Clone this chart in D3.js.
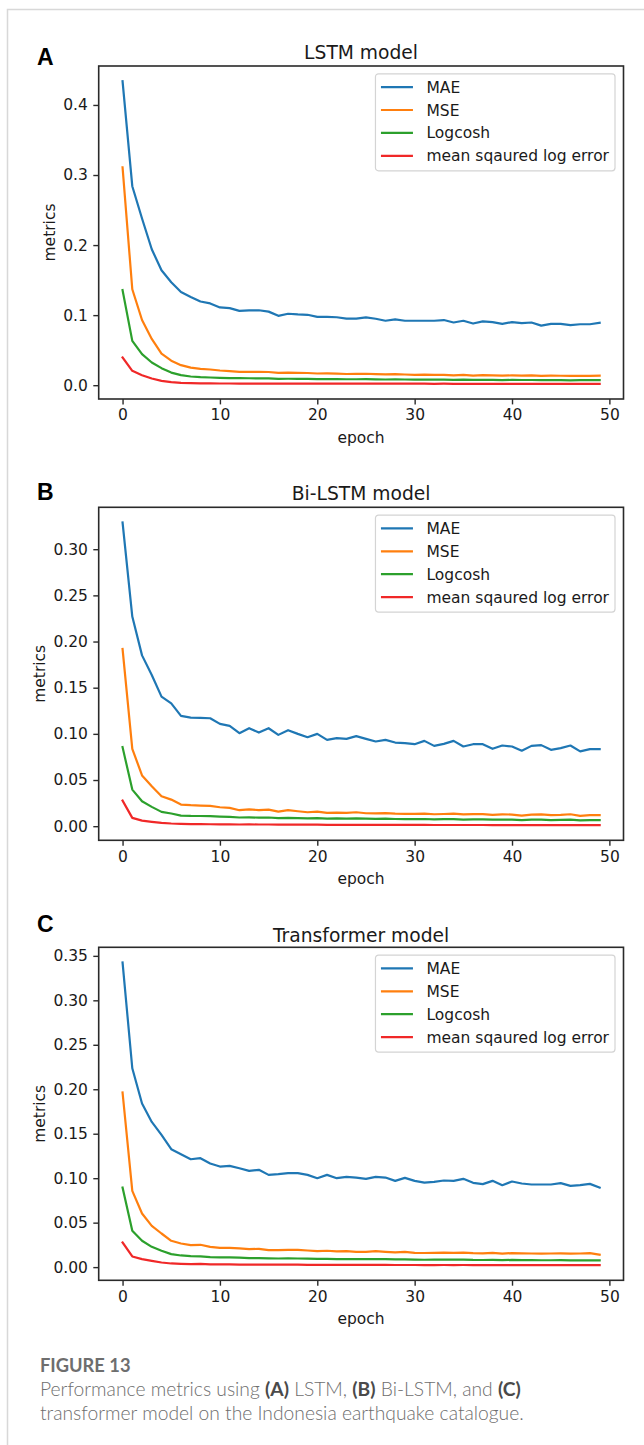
<!DOCTYPE html>
<html>
<head>
<meta charset="utf-8">
<script src="https://cdn.jsdelivr.net/npm/d3@7"></script>
<style>
  html, body { margin: 0; padding: 0; background: #fff; }
  svg { display: block; }
</style>
</head>
<body>
<div id="chart"></div>
<script>
// ---- data ----
var seriesNames = ['MAE', 'MSE', 'Logcosh', 'mean sqaured log error'];
var panelTitles = ['LSTM model', 'Bi-LSTM model', 'Transformer model'];
var panelLetters = ['A', 'B', 'C'];
var xTicks = [0, 10, 20, 30, 40, 50];
var yTicksA = [0, 0.1, 0.2, 0.3, 0.4];
var yTicksB = [0, 0.05, 0.10, 0.15, 0.20, 0.25, 0.30];
var yTicksC = [0, 0.05, 0.10, 0.15, 0.20, 0.25, 0.30, 0.35];

var lstmMAE = [
  0.434, 0.284, 0.238, 0.194, 0.164, 0.147, 0.133, 0.126, 0.1195, 0.1167,
  0.111, 0.110, 0.106, 0.1067, 0.107, 0.105, 0.099, 0.102, 0.101, 0.1005,
  0.0976, 0.0976, 0.097, 0.095, 0.095, 0.0967, 0.0948, 0.092, 0.094, 0.092,
  0.092, 0.092, 0.092, 0.093, 0.0895, 0.092, 0.088, 0.091, 0.090, 0.0876,
  0.090, 0.0886, 0.0895, 0.085, 0.0876, 0.0876, 0.0857, 0.087, 0.087, 0.089];
var lstmMSE = [
  0.311, 0.137, 0.093, 0.066, 0.045, 0.035, 0.0286, 0.025, 0.0233, 0.0224,
  0.021, 0.020, 0.019, 0.019, 0.0192, 0.0188, 0.0176, 0.0178, 0.0176, 0.0174,
  0.0167, 0.0168, 0.0165, 0.016, 0.0162, 0.0163, 0.0158, 0.0155, 0.0157, 0.0153,
  0.0148, 0.0150, 0.0146, 0.0148, 0.0141, 0.0146, 0.0138, 0.0143, 0.0141, 0.0136,
  0.0140, 0.0137, 0.0139, 0.0133, 0.0136, 0.0135, 0.0132, 0.0134, 0.0133, 0.0135];
var lstmLogcosh = [
  0.1357, 0.0633, 0.0443, 0.0324, 0.0243, 0.018, 0.0143, 0.0124, 0.0114, 0.011,
  0.0105, 0.0102, 0.010, 0.0099, 0.0098, 0.0096, 0.009, 0.0092, 0.0091, 0.009,
  0.0088, 0.0088, 0.0087, 0.0085, 0.0085, 0.0086, 0.0084, 0.0081, 0.0083, 0.0081,
  0.008, 0.008, 0.0079, 0.008, 0.0077, 0.0079, 0.0075, 0.0077, 0.0076, 0.0073,
  0.0075, 0.0074, 0.0074, 0.0071, 0.0072, 0.0072, 0.007, 0.0071, 0.0071, 0.0072];
var lstmMSLE = [
  0.0395, 0.0205, 0.0143, 0.0095, 0.0062, 0.0043, 0.0033, 0.0029, 0.0026, 0.0025,
  0.0024, 0.0024, 0.0023, 0.0023, 0.0023, 0.0023, 0.0022, 0.0022, 0.0022, 0.0022,
  0.0021, 0.0021, 0.0021, 0.0021, 0.0021, 0.0021, 0.0021, 0.0021, 0.0021, 0.0021,
  0.0021, 0.0021, 0.0020, 0.0021, 0.0020, 0.0020, 0.0020, 0.0020, 0.0020, 0.0019,
  0.0020, 0.0019, 0.0019, 0.0019, 0.0019, 0.0019, 0.0019, 0.0019, 0.0019, 0.0019];

var biMAE = [
  0.329, 0.227, 0.185, 0.1637, 0.1403, 0.133, 0.1194, 0.1176, 0.1173, 0.1169,
  0.1108, 0.1086, 0.1007, 0.1061, 0.1014, 0.1061, 0.0989, 0.104, 0.100, 0.0964,
  0.100, 0.0935, 0.0953, 0.0946, 0.0975, 0.0946, 0.0917, 0.0935, 0.0906, 0.0899,
  0.0888, 0.0924, 0.087, 0.0892, 0.0924, 0.0863, 0.0888, 0.0888, 0.0838, 0.0874,
  0.0863, 0.0817, 0.087, 0.0878, 0.0827, 0.0845, 0.0874, 0.081, 0.0835, 0.0835];
var biMSE = [
  0.192, 0.0838, 0.055, 0.0432, 0.0324, 0.0288, 0.0234, 0.0227, 0.0223, 0.022,
  0.0205, 0.0198, 0.0173, 0.0183, 0.0173, 0.018, 0.0158, 0.0173, 0.0162, 0.0151,
  0.0158, 0.0144, 0.0147, 0.0144, 0.0151, 0.014, 0.0138, 0.0141, 0.0136, 0.0134,
  0.0133, 0.0137, 0.0129, 0.0132, 0.0135, 0.0127, 0.0131, 0.013, 0.0122, 0.0128,
  0.0126, 0.0115, 0.0126, 0.0127, 0.0119, 0.0122, 0.0129, 0.0112, 0.0119, 0.0119];
var biLogcosh = [
  0.0856, 0.0396, 0.027, 0.0209, 0.0155, 0.0137, 0.0115, 0.0111, 0.011, 0.0109,
  0.0104, 0.010, 0.0094, 0.0096, 0.0092, 0.0094, 0.0088, 0.0091, 0.0088, 0.0085,
  0.0087, 0.0082, 0.0084, 0.0082, 0.0084, 0.0081, 0.008, 0.0081, 0.0078, 0.0077,
  0.0076, 0.0078, 0.0074, 0.0076, 0.0077, 0.0072, 0.0074, 0.0074, 0.007, 0.0072,
  0.0071, 0.0066, 0.007, 0.0071, 0.0066, 0.0068, 0.007, 0.0063, 0.0065, 0.0065];
var biMSLE = [
  0.0277, 0.009, 0.006, 0.0047, 0.0036, 0.0029, 0.0025, 0.0023, 0.0022, 0.0021,
  0.002, 0.002, 0.0018, 0.0019, 0.0018, 0.0018, 0.0017, 0.0017, 0.0017, 0.0016,
  0.0016, 0.0015, 0.0015, 0.0015, 0.0015, 0.0015, 0.0014, 0.0014, 0.0014, 0.0014,
  0.0014, 0.0014, 0.0013, 0.0013, 0.0013, 0.0013, 0.0013, 0.0013, 0.0012, 0.0012,
  0.0012, 0.0011, 0.0012, 0.0012, 0.0011, 0.0011, 0.0012, 0.0011, 0.0011, 0.0011];

var trMAE = [
  0.3426, 0.2236, 0.1839, 0.1633, 0.1487, 0.1326, 0.127, 0.1213, 0.1225, 0.1165,
  0.1131, 0.1139, 0.1112, 0.1082, 0.1094, 0.1037, 0.1045, 0.1056, 0.1056, 0.1037,
  0.100, 0.1037, 0.100, 0.1015, 0.1007, 0.0993, 0.1015, 0.1007, 0.097, 0.1004,
  0.097, 0.0951, 0.0959, 0.0974, 0.097, 0.0993, 0.0948, 0.0933, 0.097, 0.0921,
  0.0963, 0.094, 0.0929, 0.0929, 0.0929, 0.0944, 0.0914, 0.0921, 0.0936, 0.0895];
var trMSE = [
  0.1963, 0.0858, 0.0603, 0.0464, 0.0378, 0.0296, 0.0266, 0.0247, 0.0251, 0.0228,
  0.0217, 0.0217, 0.021, 0.0202, 0.0206, 0.0191, 0.0191, 0.0195, 0.0195, 0.0187,
  0.018, 0.0184, 0.0176, 0.018, 0.0172, 0.0172, 0.018, 0.0172, 0.0165, 0.0172,
  0.0161, 0.0159, 0.0161, 0.0163, 0.0161, 0.0164, 0.0157, 0.0155, 0.016, 0.0152,
  0.0158, 0.0155, 0.0153, 0.0152, 0.0153, 0.0155, 0.0151, 0.0153, 0.0157, 0.0139];
var trLogcosh = [
  0.0895, 0.0408, 0.0296, 0.0228, 0.0184, 0.0146, 0.0131, 0.0124, 0.012, 0.0112,
  0.0109, 0.0109, 0.0107, 0.0101, 0.0101, 0.0099, 0.0097, 0.0098, 0.0097, 0.0095,
  0.0092, 0.0093, 0.009, 0.0091, 0.009, 0.0089, 0.0091, 0.0089, 0.0086, 0.0088,
  0.0085, 0.0083, 0.0084, 0.0085, 0.0084, 0.0085, 0.0081, 0.008, 0.0082, 0.0078,
  0.0081, 0.0079, 0.0078, 0.0077, 0.0077, 0.0078, 0.0076, 0.0076, 0.0077, 0.0075];
var trMSLE = [
  0.0277, 0.012, 0.009, 0.0071, 0.0052, 0.0041, 0.0037, 0.0034, 0.0037, 0.0031,
  0.003, 0.003, 0.0029, 0.0028, 0.0028, 0.0027, 0.0027, 0.0027, 0.0027, 0.0026,
  0.0026, 0.0026, 0.0025, 0.0025, 0.0025, 0.0025, 0.0025, 0.0025, 0.0024, 0.0024,
  0.0024, 0.0023, 0.0023, 0.0024, 0.0023, 0.0024, 0.0023, 0.0023, 0.0023, 0.0022,
  0.0023, 0.0022, 0.0022, 0.0022, 0.0022, 0.0022, 0.0022, 0.0022, 0.0022, 0.0022];

var captionHead = 'FIGURE 13';
var captionLine1 = [['Performance metrics using ', false], ['(A)', true], [' LSTM, ', false],
  ['(B)', true], [' Bi-LSTM, and ', false], ['(C)', true]];
var captionLine2 = 'transformer model on the Indonesia earthquake catalogue.';

// ---- layout ----
var W = 644, H = 1445;
var colors = ['#1f77b4', '#ff7f0e', '#2ca02c', '#f02828'];
var font = 'DejaVu Sans';
var fs = 15.5;
var plotLeft = 98.7, plotRight = 623.5, plotH = 333;

var panels = [
  { top: 66,    titleY: 58.5, letterY: 65,    series: [lstmMAE, lstmMSE, lstmLogcosh, lstmMSLE], ticks: yTicksA, fmt: '.1f' },
  { top: 507.3, titleY: 500,  letterY: 500,   series: [biMAE, biMSE, biLogcosh, biMSLE],         ticks: yTicksB, fmt: '.2f' },
  { top: 947.3, titleY: 942,  letterY: 931.5, series: [trMAE, trMSE, trLogcosh, trMSLE],         ticks: yTicksC, fmt: '.2f' }
];

var svg = d3.select('#chart').append('svg')
  .attr('width', W)
  .attr('height', H);

svg.append('rect').attr('width', W).attr('height', H).attr('fill', '#fff');

// card edge
svg.append('path')
  .attr('d', 'M7.5,' + H + 'V9.5H' + W)
  .attr('fill', 'none')
  .attr('stroke', '#d8d8d8')
  .attr('stroke-width', 1.5);

panels.forEach(function (p, k) {
  var bottom = p.top + plotH;
  var all = [].concat.apply([], p.series);
  var lo = d3.min(all), hi = d3.max(all), pad = (hi - lo) * 0.05;

  var x = d3.scaleLinear().domain([-2.45, 51.45]).range([plotLeft, plotRight]);
  var y = d3.scaleLinear().domain([lo - pad, hi + pad]).range([bottom, p.top]);

  var g = svg.append('g');

  // series
  var line = d3.line()
    .x(function (d, i) { return x(i); })
    .y(function (d) { return y(d); });

  p.series.forEach(function (s, j) {
    g.append('path')
      .datum(s)
      .attr('d', line)
      .attr('fill', 'none')
      .attr('stroke', colors[j])
      .attr('stroke-width', 2.2)
      .attr('stroke-linejoin', 'round')
      .attr('stroke-linecap', 'square');
  });

  // axes
  var xAxis = g.append('g')
    .attr('transform', 'translate(0,' + bottom + ')')
    .call(d3.axisBottom(x).tickValues(xTicks).tickSize(5.4).tickPadding(5).tickFormat(d3.format('d')));
  var yAxis = g.append('g')
    .attr('transform', 'translate(' + plotLeft + ',0)')
    .call(d3.axisLeft(y).tickValues(p.ticks).tickSize(5.4).tickPadding(5.4).tickFormat(d3.format(p.fmt)));

  [xAxis, yAxis].forEach(function (a) {
    a.select('.domain').remove();
    a.selectAll('line').attr('stroke', '#2a2a2a').attr('stroke-width', 1.4);
    a.selectAll('text').attr('font-family', font).attr('font-size', fs).attr('fill', '#1a1a1a');
  });

  // frame
  g.append('rect')
    .attr('x', plotLeft).attr('y', p.top)
    .attr('width', plotRight - plotLeft).attr('height', plotH)
    .attr('fill', 'none')
    .attr('stroke', '#2a2a2a')
    .attr('stroke-width', 1.6);

  // title and letter
  g.append('text')
    .attr('x', (plotLeft + plotRight) / 2).attr('y', p.titleY)
    .attr('text-anchor', 'middle')
    .attr('font-family', font).attr('font-size', 18.7).attr('fill', '#1a1a1a')
    .text(panelTitles[k]);
  g.append('text')
    .attr('x', 37).attr('y', p.letterY)
    .attr('font-family', 'Liberation Sans, Arial, sans-serif').attr('font-weight', 'bold')
    .attr('font-size', 23).attr('fill', '#000')
    .text(panelLetters[k]);

  // axis labels
  g.append('text')
    .attr('x', (plotLeft + plotRight) / 2).attr('y', bottom + 43.5)
    .attr('text-anchor', 'middle')
    .attr('font-family', font).attr('font-size', fs).attr('fill', '#1a1a1a')
    .text('epoch');
  var tickLeft = yAxis.node().getBBox().x + plotLeft;
  g.append('text')
    .attr('transform', 'translate(' + (tickLeft - 8) + ',' + (p.top + plotH / 2) + ') rotate(-90)')
    .attr('text-anchor', 'middle')
    .attr('font-family', font).attr('font-size', fs).attr('fill', '#1a1a1a')
    .text('metrics');

  // legend
  var lg = g.append('g');
  var box = lg.append('rect')
    .attr('fill', '#fff').attr('fill-opacity', 0.8)
    .attr('stroke', '#d4d4d4').attr('stroke-width', 1.2)
    .attr('rx', 3);
  var maxW = 0;
  seriesNames.forEach(function (name, j) {
    var t = lg.append('text')
      .attr('x', 51).attr('y', 13.3 + j * 22.9)
      .attr('dy', '0.36em')
      .attr('font-family', font).attr('font-size', fs).attr('fill', '#1a1a1a')
      .text(name);
    maxW = Math.max(maxW, t.node().getComputedTextLength());
    lg.append('line')
      .attr('x1', 5.5).attr('x2', 37.5)
      .attr('y1', 13.3 + j * 22.9).attr('y2', 13.3 + j * 22.9)
      .attr('stroke', colors[j]).attr('stroke-width', 2.2);
  });
  var bw = 51 + maxW + 6;
  box.attr('width', bw).attr('height', 97);
  lg.attr('transform', 'translate(' + (plotRight - 8.5 - bw) + ',' + (p.top + 7.8) + ')');
});

// caption
var cap = svg.append('g').attr('fill', '#6e6e6e');
var head = cap.append('text')
  .attr('x', 40).attr('y', 1372)
  .attr('font-family', 'Lato, Open Sans, sans-serif').attr('font-weight', 'bold')
  .attr('font-size', 18)
  .text(captionHead);
var hw = head.node().getComputedTextLength();
head.attr('font-size', 18 * 90.6 / hw);

var l1 = cap.append('text')
  .attr('x', 40).attr('y', 1396)
  .attr('font-family', 'Lato, Open Sans, sans-serif')
  .attr('font-size', 18);
captionLine1.forEach(function (part) {
  l1.append('tspan')
    .attr('font-weight', part[1] ? 'bold' : 300)
    .attr('fill', part[1] ? '#4a4a4a' : '#6e6e6e')
    .text(part[0]);
});
var l2 = cap.append('text')
  .attr('x', 40).attr('y', 1420)
  .attr('font-family', 'Lato, Open Sans, sans-serif').attr('font-weight', 300)
  .attr('font-size', 18)
  .text(captionLine2);
var w1 = l1.node().getComputedTextLength();
var capSize = 18 * 481 / w1;
l1.attr('font-size', capSize);
l2.attr('font-size', capSize);
</script>
</body>
</html>
